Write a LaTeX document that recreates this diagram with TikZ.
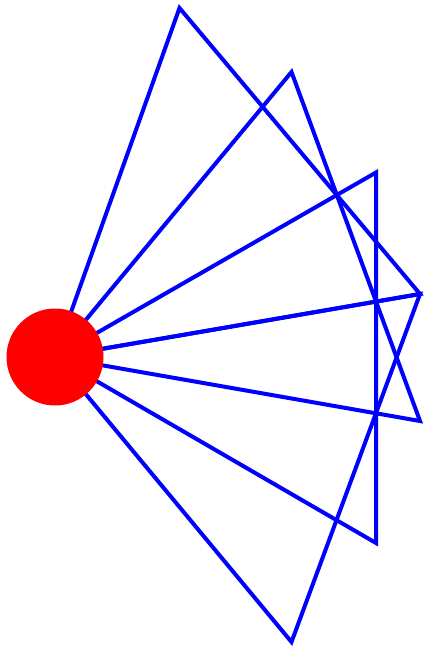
\documentclass[tikz,border=0pt]{standalone}
\begin{document}
\begin{tikzpicture}[x=1pt,y=-1pt,
  edge/.style={draw=blue, line width=4pt, line join=miter},
  hub/.style={circle, fill=red, draw=none, minimum size=97pt, inner sep=0pt}]
\useasboundingbox (0,0) rectangle (426,653);
\coordinate (C) at (55,357);
\coordinate (A1) at (179.5,8);
\coordinate (A2) at (291.5,72);
\coordinate (A3) at (376,172.5);
\coordinate (A4) at (420,294);
\coordinate (A5) at (420,421);
\coordinate (A6) at (376,543);
\coordinate (A7) at (291.5,642);
\draw[edge] (C) -- (A1) -- (A4) -- cycle;
\draw[edge] (C) -- (A2) -- (A5) -- cycle;
\draw[edge] (C) -- (A3) -- (A6) -- cycle;
\draw[edge] (C) -- (A4) -- (A7) -- cycle;
\node[hub] (hub) at (C) {};
\end{tikzpicture}
\end{document}
